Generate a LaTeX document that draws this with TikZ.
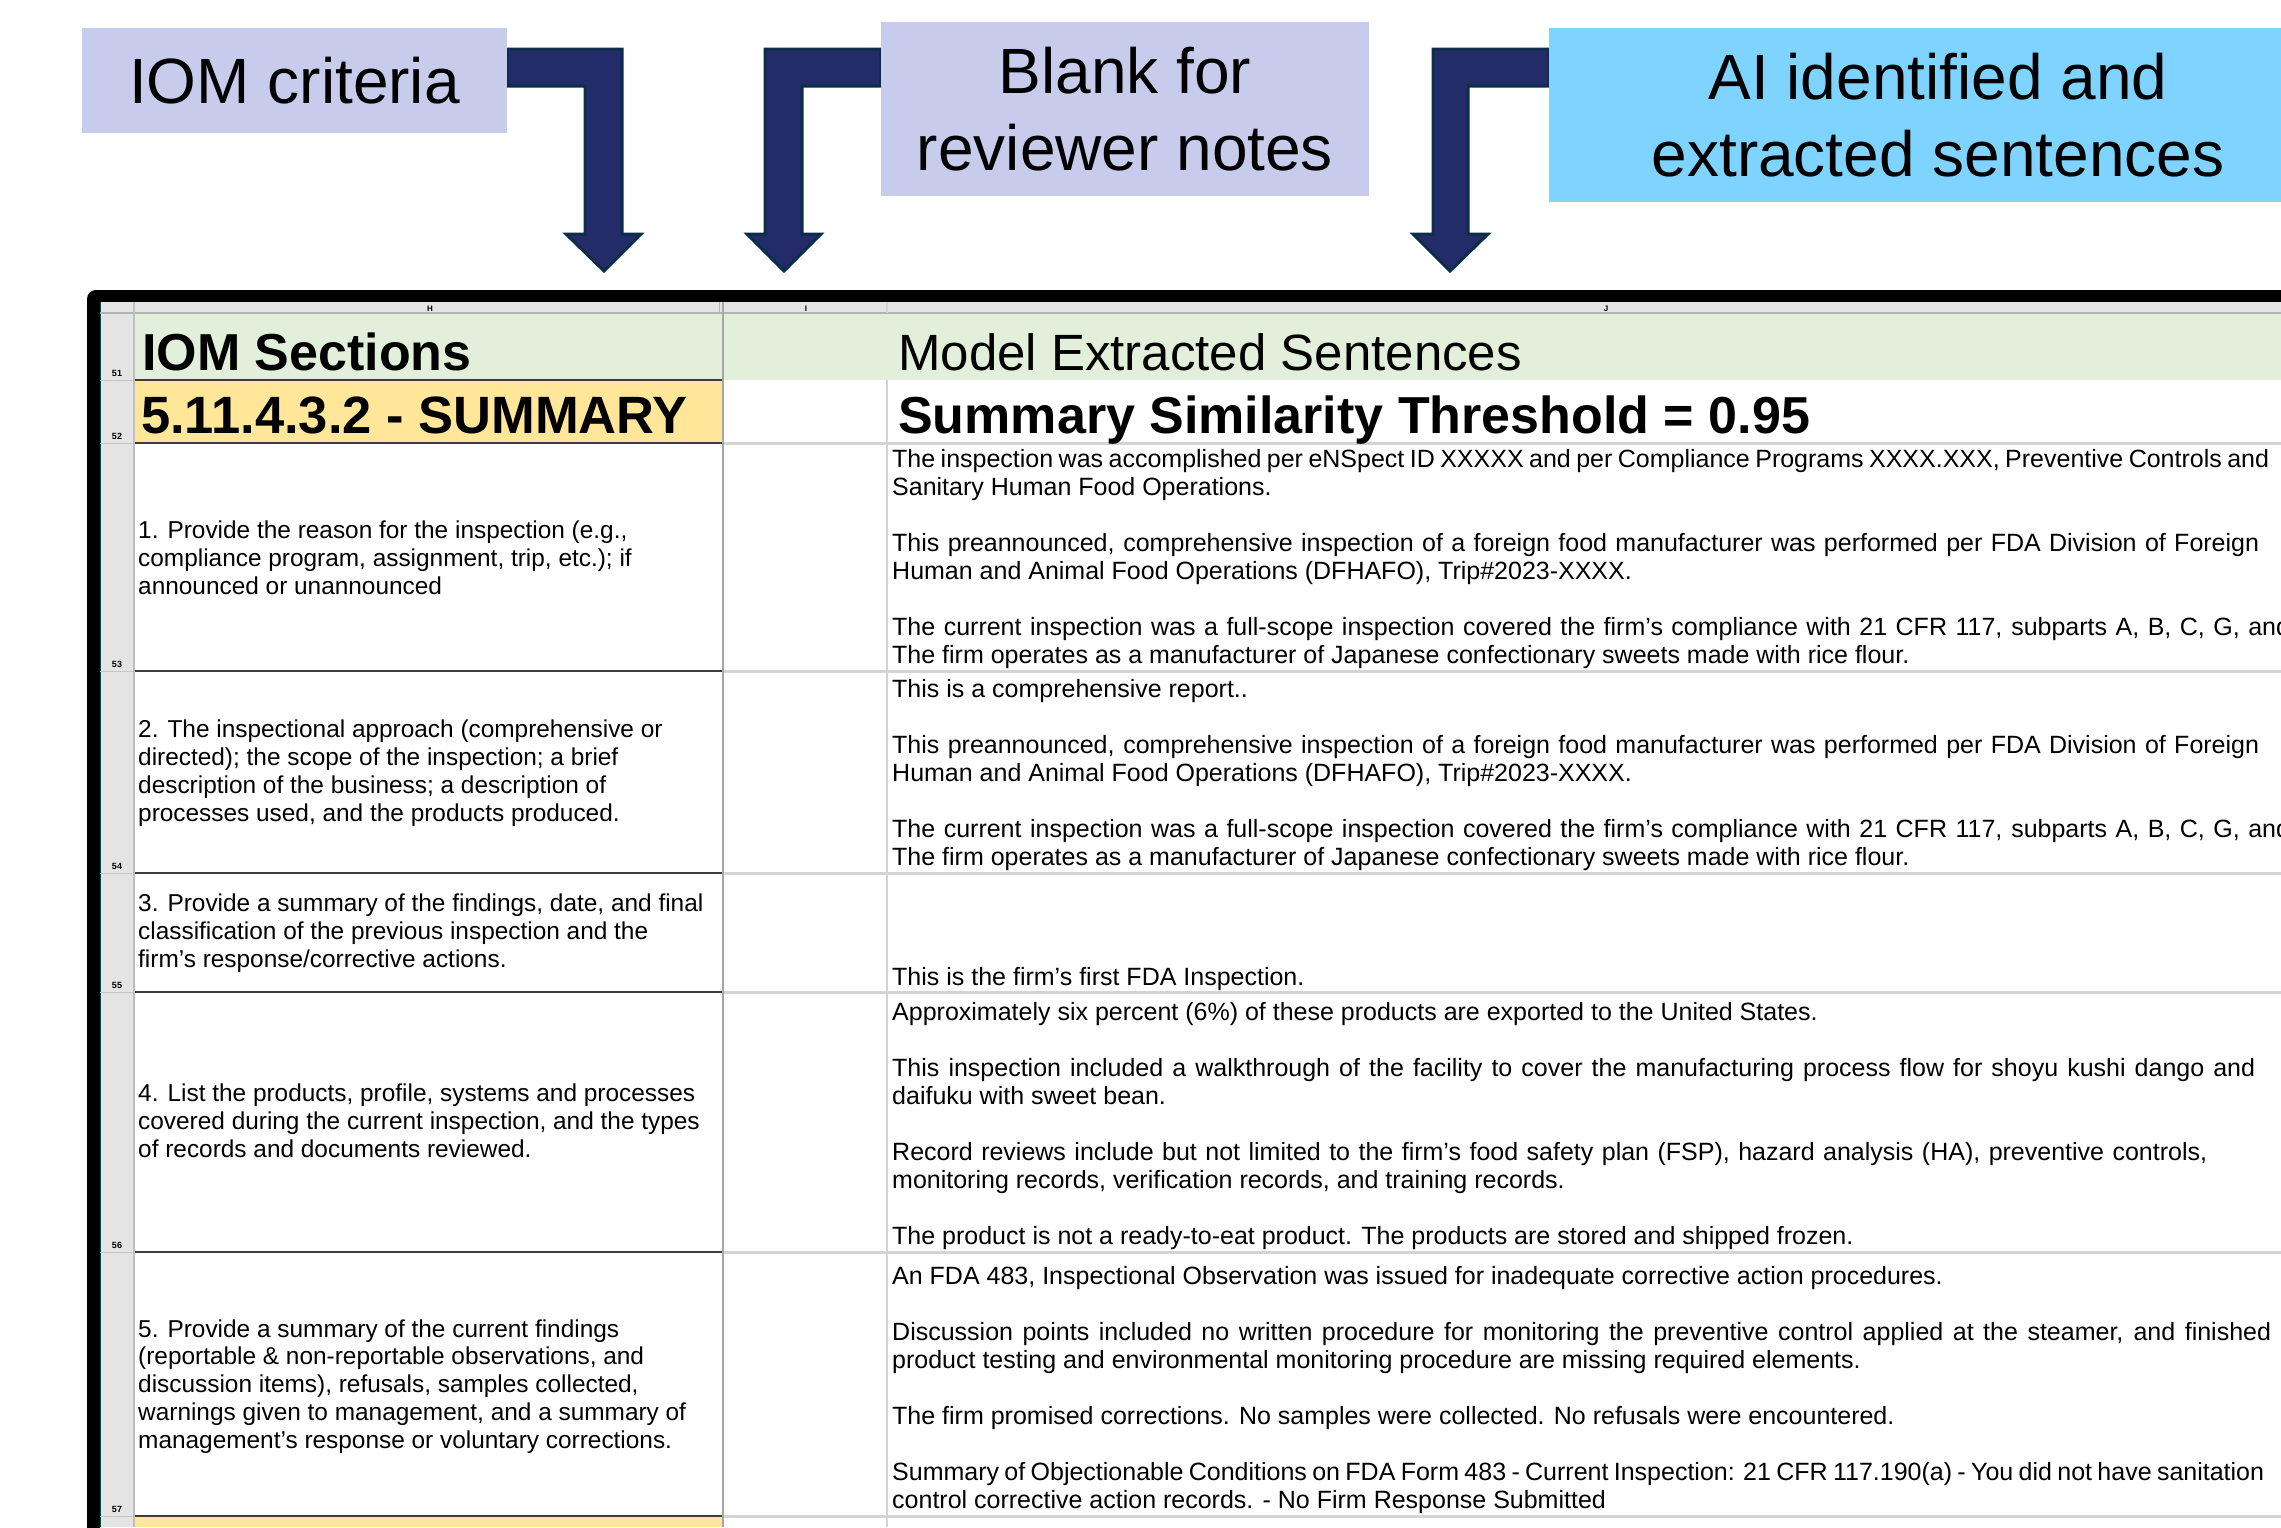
\documentclass[tikz,border=0pt]{standalone}
\usepackage{fontspec}
\setmainfont{Liberation Sans}
\usepackage{xcolor}
\usepackage{tikz}
\usetikzlibrary{backgrounds}

\definecolor{lavender}{RGB}{200,204,236}
\definecolor{skyblue}{RGB}{127,211,255}
\definecolor{arrownavy}{RGB}{35,44,104}
\definecolor{arrowedge}{RGB}{12,45,74}
\definecolor{sheetgray}{RGB}{228,228,228}
\definecolor{headgreen}{RGB}{226,239,218}
\definecolor{sumyellow}{RGB}{255,230,153}
\definecolor{gridlight}{RGB}{212,212,212}
\definecolor{griddark}{RGB}{60,60,60}

% a wrapped line, spread out to the width the sheet gives it
\newcommand{\spreadline}[2]{\makebox[#1pt][s]{#2}}

\begin{document}
\begin{tikzpicture}[x=1pt, y=-1pt,
    label box/.style={fill=#1, align=center, inner sep=0pt, font=\fontsize{64}{77}\selectfont},
    bent arrow/.style={fill=arrownavy, draw=arrowedge, line width=3pt, line join=miter},
    criterion/.style={anchor=base west, inner sep=0pt, align=left, font=\fontsize{24.4}{27.7}\selectfont},
    sentence/.style={anchor=base west, inner sep=0pt, align=left, font=\fontsize{25}{28}\selectfont}]
        \useasboundingbox (0,0) rectangle (2281,1527);
        \clip (0,0) rectangle (2281,1527);

        % Callouts
        \node[label box=lavender, minimum width=425pt, minimum height=105pt] (iom) at (294.5,80.5) {IOM criteria};
        \node[label box=lavender, minimum width=488pt, minimum height=174pt] (blank) at (1125,109) {Blank for\\reviewer notes};
        \node[label box=skyblue, minimum width=778pt, minimum height=174pt] (ai) at (1938,115) {AI identified and\\extracted sentences};

        % Arrows down to the columns
        \coordinate (tipH) at (604,271);
        \coordinate (tipI) at (784,271);
        \coordinate (tipJ) at (1450,271);
        \begin{scope}[on background layer]
            \draw[bent arrow] (iom.east |- 0,49) -- (622,49) -- (622,234) -- (641,234) -- (tipH)
                -- (566,234) -- (585,234) -- (585,86) -- (iom.east |- 0,86) -- cycle;
            \draw[bent arrow] (blank.west |- 0,49) -- (765,49) -- (765,234) -- (747,234) -- (tipI)
                -- (821,234) -- (802,234) -- (802,86) -- (blank.west |- 0,86) -- cycle;
            \draw[bent arrow] (ai.west |- 0,49) -- (1433,49) -- (1433,234) -- (1413,234) -- (tipJ)
                -- (1488,234) -- (1468,234) -- (1468,86) -- (ai.west |- 0,86) -- cycle;
        \end{scope}

        % Sheet frame
        \fill[black, rounded corners=9pt] (87,1560) -- (87,290) -- (2320,290) -- (2320,1560) -- cycle;
        \fill[white] (100,302) rectangle (2320,1560);
        \fill[sheetgray] (100,302) rectangle (2281,313);
        \fill[sheetgray] (100,313) rectangle (134,1527);
        \draw[teal!60!black, line width=1pt] (100.5,302) -- (100.5,1527);

        % Coloured cells
        \fill[headgreen] (134,313) rectangle (2281,380);
        \fill[sumyellow] (134,380) rectangle (723,443);
        \fill[sumyellow] (134,1516) rectangle (723,1527);

        % Grid
        \draw[gray!60, line width=1.5pt] (100,313) -- (2281,313);
        \foreach \y in {380,443,671,873,992,1252,1516} {
            \draw[griddark, line width=2.5pt] (134,\y) -- (723,\y);
            \draw[gray!45, line width=1pt] (100,\y) -- (134,\y);
        }
        \foreach \y in {443,671,873,992,1252,1516} {
            \draw[gridlight, line width=3pt] (723,\y) -- (2281,\y);
        }
        \draw[gray!50, line width=1.5pt] (134,302) -- (134,1527);
        \draw[gray!70, line width=2pt] (723,302) -- (723,1527);
        \draw[gray!60, line width=1pt] (719,302) -- (719,313);
        \draw[gridlight, line width=2pt] (887,302) -- (887,313);
        \draw[gridlight, line width=2pt] (887,380) -- (887,1527);

        % Column letters and row numbers
        \node[anchor=base, inner sep=0pt, font=\fontsize{8}{8}\selectfont\bfseries] (colH) at (430,311) {H};
        \node[anchor=base, inner sep=0pt, font=\fontsize{8}{8}\selectfont\bfseries] (colI) at (806,311) {I};
        \node[anchor=base, inner sep=0pt, font=\fontsize{8}{8}\selectfont\bfseries] (colJ) at (1606,311) {J};
        \foreach \r/\y in {51/376,52/439,53/667,54/869,55/988,56/1248,57/1512} {
            \node[anchor=base, inner sep=0pt, font=\fontsize{9}{9}\selectfont\bfseries] (row\r) at (117,\y) {\r};
        }

        % Headings
        \node[anchor=base west, inner sep=0pt, font=\fontsize{52}{60}\selectfont\bfseries] (sections) at (142,370) {IOM Sections};
        \node[anchor=base west, inner sep=0pt, font=\fontsize{52.5}{60}\selectfont\bfseries] (summary) at (141,433) {5.11.4.3.2 - SUMMARY};
        \node[anchor=base west, inner sep=0pt, font=\fontsize{51}{60}\selectfont] (model) at (898,370) {Model Extracted Sentences};
        \node[anchor=base west, inner sep=0pt, font=\fontsize{52}{60}\selectfont\bfseries] (threshold) at (898,433) {Summary Similarity Threshold = 0.95};

        % IOM criteria (placed at the baseline of their last line)
        \node[criterion] (crit1) at (138,594) {1. Provide the reason for the inspection (e.g.,\\compliance program, assignment, trip, etc.); if\\announced or unannounced};
        \node[criterion] (crit2) at (138,821) {2. The inspectional approach (comprehensive or\\directed); the scope of the inspection; a brief\\description of the business; a description of\\processes used, and the products produced.};
        \node[criterion] (crit3) at (138,967) {3. Provide a summary of the findings, date, and final\\classification of the previous inspection and the\\firm’s response/corrective actions.};
        \node[criterion] (crit4) at (138,1157) {4. List the products, profile, systems and processes\\covered during the current inspection, and the types\\of records and documents reviewed.};
        \node[criterion] (crit5) at (138,1448) {5. Provide a summary of the current findings\\(reportable \& non-reportable observations, and\\discussion items), refusals, samples collected,\\warnings given to management, and a summary of\\management’s response or voluntary corrections.};

        % Extracted sentences (bottom of each cell)
        \node[sentence] (sent1) at (892,663) {\spreadline{1377}{The inspection was accomplished per eNSpect ID XXXXX and per Compliance Programs XXXX.XXX, Preventive Controls and}\\Sanitary Human Food Operations.\\[28pt]\spreadline{1367}{This preannounced, comprehensive inspection of a foreign food manufacturer was performed per FDA Division of Foreign}\\Human and Animal Food Operations (DFHAFO), Trip\#2023-XXXX.\\[28pt]\spreadline{1398}{The current inspection was a full-scope inspection covered the firm’s compliance with 21 CFR 117, subparts A, B, C, G, and}\\The firm operates as a manufacturer of Japanese confectionary sweets made with rice flour.};
        \node[sentence] (sent2) at (892,865) {This is a comprehensive report..\\[28pt]\spreadline{1367}{This preannounced, comprehensive inspection of a foreign food manufacturer was performed per FDA Division of Foreign}\\Human and Animal Food Operations (DFHAFO), Trip\#2023-XXXX.\\[28pt]\spreadline{1398}{The current inspection was a full-scope inspection covered the firm’s compliance with 21 CFR 117, subparts A, B, C, G, and}\\The firm operates as a manufacturer of Japanese confectionary sweets made with rice flour.};
        \node[sentence] (sent3) at (892,985) {This is the firm’s first FDA Inspection.};
        \node[sentence] (sent4) at (892,1244) {Approximately six percent (6\%) of these products are exported to the United States.\\[28pt]\spreadline{1363}{This inspection included a walkthrough of the facility to cover the manufacturing process flow for shoyu kushi dango and}\\daifuku with sweet bean.\\[28pt]\spreadline{1315}{Record reviews include but not limited to the firm's food safety plan (FSP), hazard analysis (HA), preventive controls,}\\monitoring records, verification records, and training records.\\[28pt]The product is not a ready-to-eat product. The products are stored and shipped frozen.};
        \node[sentence] (sent5) at (892,1508) {An FDA 483, Inspectional Observation was issued for inadequate corrective action procedures.\\[28pt]\spreadline{1379}{Discussion points included no written procedure for monitoring the preventive control applied at the steamer, and finished}\\product testing and environmental monitoring procedure are missing required elements.\\[28pt]The firm promised corrections. No samples were collected. No refusals were encountered.\\[28pt]\spreadline{1372}{Summary of Objectionable Conditions on FDA Form 483 - Current Inspection: 21 CFR 117.190(a) - You did not have sanitation}\\control corrective action records. - No Firm Response Submitted};
    \end{tikzpicture}
\end{document}
